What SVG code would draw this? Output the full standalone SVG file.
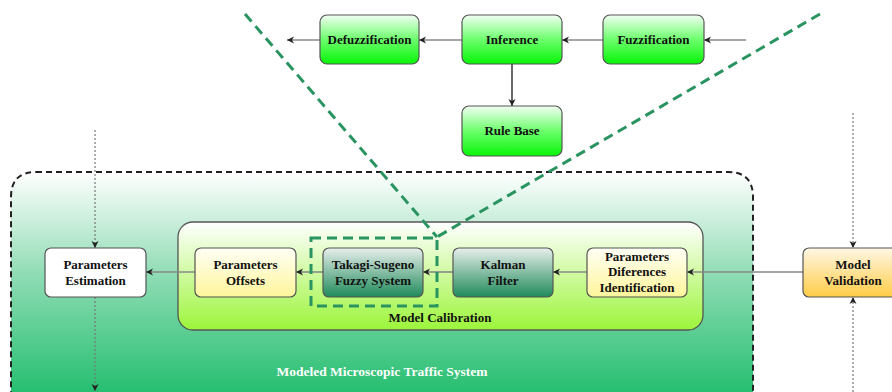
<svg xmlns="http://www.w3.org/2000/svg" width="892" height="392" viewBox="0 0 892 392">
<defs>
<linearGradient id="gOuter" x1="0" y1="0" x2="0" y2="1"><stop offset="0" stop-color="#ffffff"/><stop offset="0.45" stop-color="#8fdcb4"/><stop offset="1" stop-color="#1fbd6c"/></linearGradient>
<linearGradient id="gCal" x1="0" y1="0" x2="0" y2="1"><stop offset="0" stop-color="#ffffff"/><stop offset="1" stop-color="#9cf53a"/></linearGradient>
<linearGradient id="gLime" x1="0" y1="0" x2="0" y2="1"><stop offset="0" stop-color="#f2fff2"/><stop offset="0.5" stop-color="#6cff6c"/><stop offset="1" stop-color="#08f508"/></linearGradient>
<linearGradient id="gDark" x1="0" y1="0" x2="0" y2="1"><stop offset="0" stop-color="#e8efec"/><stop offset="1" stop-color="#1f8a5a"/></linearGradient>
<linearGradient id="gYel" x1="0" y1="0" x2="0" y2="1"><stop offset="0" stop-color="#fffff6"/><stop offset="1" stop-color="#fff59a"/></linearGradient>
<linearGradient id="gOrange" x1="0" y1="0" x2="0" y2="1"><stop offset="0" stop-color="#fff7e6"/><stop offset="1" stop-color="#ffcc45"/></linearGradient>
<marker id="ah" markerWidth="8" markerHeight="8" refX="7" refY="4" orient="auto" markerUnits="userSpaceOnUse"><path d="M0,0.5 L7,4 L0,7.5 L2,4 Z" fill="#222"/></marker>
</defs>
<style>
.box{stroke:#555;stroke-width:1.2}
.t{font-family:"Liberation Serif",serif;font-weight:bold;font-size:13px;fill:#111;text-anchor:middle}
.c{fill:none;stroke:#888;stroke-width:1.6;marker-end:url(#ah)}
.d{fill:none;stroke:#777;stroke-width:1.2;stroke-dasharray:2,2;marker-end:url(#ah)}
.gd{fill:none;stroke:#2a9460;stroke-width:3;stroke-dasharray:10,6}
</style>
<g id="outer">
<path d="M36,172 H728 Q753,172 753,197 V400 H11 V197 Q11,172 36,172 Z" fill="url(#gOuter)" stroke="#222" stroke-width="2" stroke-dasharray="6,4"/>
<text x="382" y="376" class="t" style="fill:#fff;font-size:13.5px">Modeled Microscopic Traffic System</text>
</g>
<g id="calibration">
<rect x="178" y="222" width="525" height="108" rx="15" fill="url(#gCal)" stroke="#555" stroke-width="1.3"/>
<text x="440" y="322" class="t">Model Calibration</text>
</g>
<g id="connectors">
<line x1="320" y1="40" x2="287" y2="40" class="c"/>
<line x1="462" y1="40" x2="419" y2="40" class="c"/>
<line x1="603" y1="40" x2="562" y2="40" class="c"/>
<line x1="746" y1="40" x2="704" y2="40" class="c"/>
<line x1="512" y1="64" x2="512" y2="106" class="c" style="stroke:#444"/>
<line x1="803" y1="272" x2="687" y2="272" class="c"/>
<line x1="587" y1="272" x2="553" y2="272" class="c"/>
<line x1="453" y1="272" x2="423" y2="272" class="c"/>
<line x1="323" y1="272" x2="296" y2="272" class="c"/>
<line x1="195" y1="272" x2="146" y2="272" class="c"/>
<line x1="95" y1="130" x2="95" y2="248" class="d"/>
<line x1="95" y1="297" x2="95" y2="391" class="d"/>
<line x1="853" y1="113" x2="853" y2="248" class="d"/>
<line x1="853" y1="392" x2="853" y2="297" class="d"/>
</g>
<g id="defuzzification"><rect x="320" y="15" width="99" height="49" rx="7" class="box" fill="url(#gLime)"/><text x="369.5" y="44" class="t">Defuzzification</text></g>
<g id="inference"><rect x="462" y="15" width="100" height="49" rx="7" class="box" fill="url(#gLime)"/><text x="512" y="44" class="t">Inference</text></g>
<g id="fuzzification"><rect x="603" y="15" width="101" height="49" rx="7" class="box" fill="url(#gLime)"/><text x="653.5" y="44" class="t">Fuzzification</text></g>
<g id="rulebase"><rect x="462" y="106" width="100" height="50" rx="7" class="box" fill="url(#gLime)"/><text x="512" y="135" class="t">Rule Base</text></g>
<g id="estimation"><rect x="45" y="248" width="101" height="49" rx="6" class="box" fill="#fff"/><text x="95.5" y="269" class="t">Parameters</text><text x="95.5" y="285" class="t">Estimation</text></g>
<g id="offsets"><rect x="195" y="248" width="101" height="49" rx="6" class="box" fill="url(#gYel)"/><text x="245.5" y="269" class="t">Parameters</text><text x="245.5" y="285" class="t">Offsets</text></g>
<g id="takagi"><rect x="323" y="248" width="100" height="49" rx="6" class="box" fill="url(#gDark)"/><text x="373" y="269" class="t">Takagi-Sugeno</text><text x="373" y="285" class="t">Fuzzy System</text></g>
<g id="kalman"><rect x="453" y="248" width="100" height="49" rx="6" class="box" fill="url(#gDark)"/><text x="503" y="269" class="t">Kalman</text><text x="503" y="285" class="t">Filter</text></g>
<g id="differences"><rect x="587" y="248" width="100" height="49" rx="6" class="box" fill="url(#gYel)"/><text x="637" y="261" class="t">Parameters</text><text x="637" y="276" class="t">Diferences</text><text x="637" y="292" class="t">Identification</text></g>
<g id="validation"><rect x="803" y="248" width="100" height="49" rx="6" class="box" fill="url(#gOrange)"/><text x="853" y="269" class="t">Model</text><text x="853" y="285" class="t">Validation</text></g>
<g id="zoom">
<rect x="311" y="238" width="126" height="68" class="gd"/>
<line x1="245" y1="14" x2="437" y2="237" class="gd"/>
<line x1="820" y1="14" x2="437" y2="237" class="gd"/>
</g>
</svg>
